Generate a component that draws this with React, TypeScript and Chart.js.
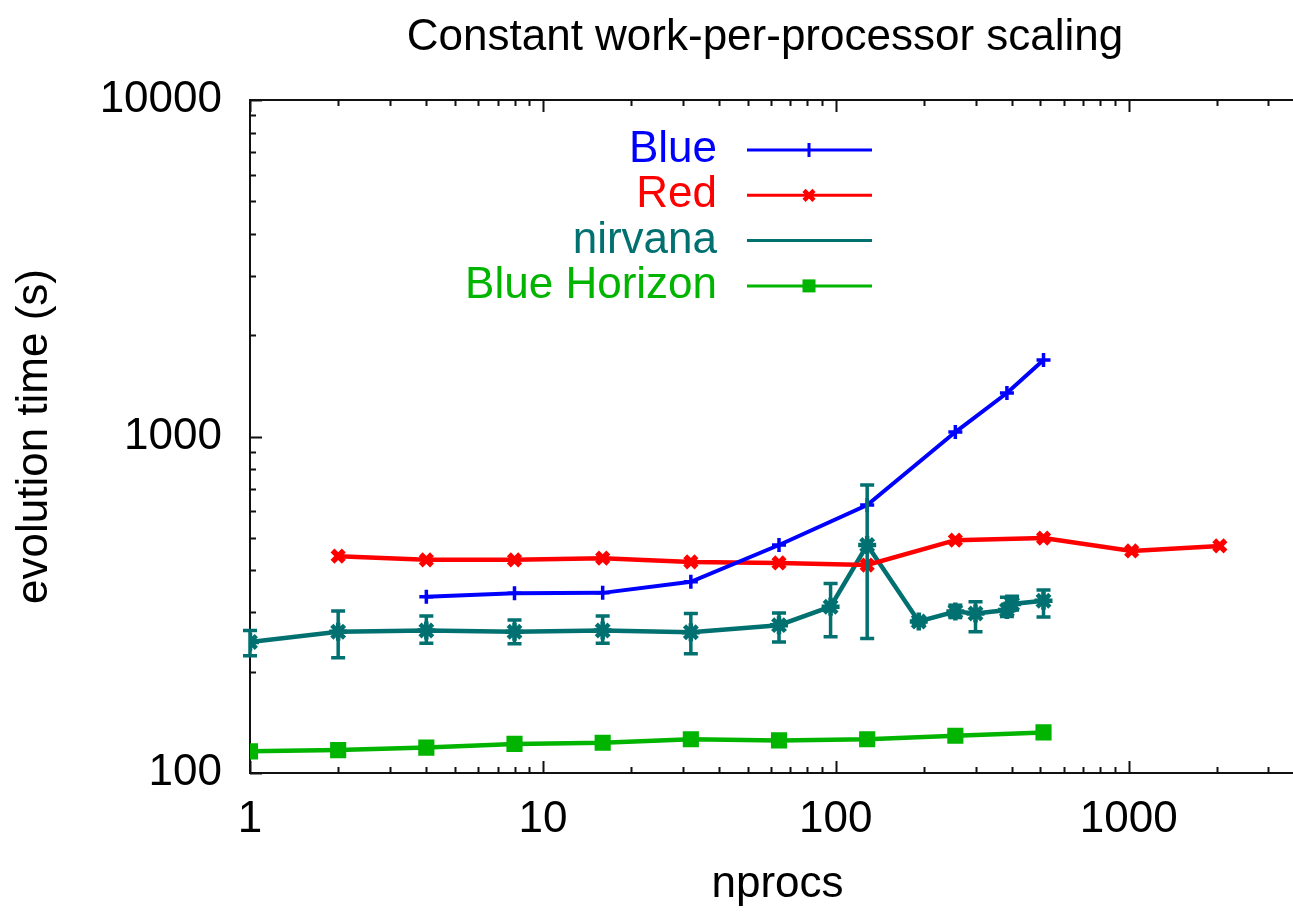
import React, { useEffect, useRef } from 'react';
import { Chart, registerables } from 'chart.js';

Chart.register(...registerables);

const TITLE = 'Constant work-per-processor scaling';
const X_LABEL = 'nprocs';
const Y_LABEL = 'evolution time (s)';
const X_TICKS = [1, 10, 100, 1000];
const Y_TICKS = [100, 1000, 10000];
const X_MIN = 1;
const X_MAX = 4000;
const Y_MIN = 100;
const Y_MAX = 10000;

const SERIES_NAMES = ['Blue', 'Red', 'nirvana', 'Blue Horizon'];
const SERIES_COLORS = ['#0000ff', '#ff0000', '#007070', '#00b400'];

const blueX = [4, 8, 16, 32, 64, 128, 256, 384, 512];
const blueY = [334, 342, 343, 370, 476, 626, 1031, 1346, 1688];

const redX = [2, 4, 8, 16, 32, 64, 128, 256, 512, 1024, 2048];
const redY = [441, 430, 430, 435, 424, 421, 415, 492, 499, 457, 473];

const nirvanaX = [1, 2, 4, 8, 16, 32, 64, 96, 128, 192, 256, 300, 384, 400, 512];
const nirvanaY = [245, 263, 265, 263, 265, 262, 275, 312, 476, 282, 302, 298, 305, 318, 325];
const nirvanaLow = [223, 220, 243, 242, 243, 226, 245, 254, 251, 278, 290, 263, 292, 305, 291];
const nirvanaHigh = [265, 303, 293, 285, 293, 298, 299, 366, 718, 286, 315, 323, 333, 335, 350];

const horizonX = [1, 2, 4, 8, 16, 32, 64, 128, 256, 512];
const horizonY = [116, 117, 119, 122, 123, 126, 125, 126, 129, 132];

const FONT = '"Liberation Sans", Arial, Helvetica, sans-serif';
const FONT_SIZE = 44;

function drawMarker(ctx: CanvasRenderingContext2D, kind: string, x: number, y: number, color: string) {
  ctx.save();
  ctx.strokeStyle = color;
  ctx.fillStyle = color;
  if (kind === 'plus') {
    ctx.lineWidth = 3;
    ctx.beginPath();
    ctx.moveTo(x, y - 7);
    ctx.lineTo(x, y + 7);
    ctx.stroke();
  } else if (kind === 'x') {
    ctx.lineWidth = 4.5;
    ctx.beginPath();
    ctx.moveTo(x - 5, y - 5);
    ctx.lineTo(x + 5, y + 5);
    ctx.moveTo(x + 5, y - 5);
    ctx.lineTo(x - 5, y + 5);
    ctx.stroke();
  } else if (kind === 'square') {
    ctx.fillRect(x - 6.5, y - 6.5, 13, 13);
  }
  ctx.restore();
}

const titlePlugin = {
  id: 'gpTitle',
  afterDraw(chart: any) {
    const ctx = chart.ctx;
    ctx.save();
    ctx.fillStyle = '#000';
    ctx.font = `${FONT_SIZE}px ${FONT}`;
    ctx.textAlign = 'center';
    ctx.textBaseline = 'middle';
    ctx.fillText(TITLE, 765, 38);
    ctx.restore();
  },
};

const framePlugin = {
  id: 'gpFrame',
  beforeDatasetsDraw(chart: any) {
    const { ctx, chartArea: a, scales } = chart;
    const xs = scales.x;
    const ys = scales.y;
    ctx.save();
    ctx.strokeStyle = '#111';
    ctx.lineWidth = 2;
    ctx.strokeRect(a.left, a.top, a.right - a.left, a.bottom - a.top);
    ctx.beginPath();
    for (let d = 1; d <= 1000; d *= 10) {
      for (let k = 1; k <= 9; k++) {
        const v = d * k;
        if (v < X_MIN || v > X_MAX) continue;
        const px = Math.round(xs.getPixelForValue(v)) + 0.5;
        const L = k === 1 ? 12 : 6;
        ctx.moveTo(px, a.bottom);
        ctx.lineTo(px, a.bottom - L);
        ctx.moveTo(px, a.top);
        ctx.lineTo(px, a.top + L);
      }
    }
    for (let d = 100; d <= 10000; d *= 10) {
      for (let k = 1; k <= 9; k++) {
        const v = d * k;
        if (v < Y_MIN || v > Y_MAX) continue;
        const py = Math.round(ys.getPixelForValue(v)) + 0.5;
        const L = k === 1 ? 12 : 6;
        ctx.moveTo(a.left, py);
        ctx.lineTo(a.left + L, py);
        ctx.moveTo(a.right, py);
        ctx.lineTo(a.right - L, py);
      }
    }
    ctx.stroke();
    ctx.restore();
  },
};

const errorBarPlugin = {
  id: 'gpErrorBars',
  afterDatasetsDraw(chart: any) {
    const { ctx, scales } = chart;
    const xs = scales.x;
    const ys = scales.y;
    ctx.save();
    ctx.strokeStyle = SERIES_COLORS[2];
    ctx.lineWidth = 3.5;
    ctx.beginPath();
    nirvanaX.forEach((xv, i) => {
      const px = xs.getPixelForValue(xv);
      const pl = ys.getPixelForValue(nirvanaLow[i]);
      const ph = ys.getPixelForValue(nirvanaHigh[i]);
      ctx.moveTo(px, pl);
      ctx.lineTo(px, ph);
      ctx.moveTo(px - 7, pl);
      ctx.lineTo(px + 7, pl);
      ctx.moveTo(px - 7, ph);
      ctx.lineTo(px + 7, ph);
    });
    ctx.stroke();
    ctx.restore();
  },
};

const LEGEND_MARKERS = ['plus', 'x', 'none', 'square'];

const legendPlugin = {
  id: 'gpLegend',
  afterDraw(chart: any) {
    const ctx = chart.ctx;
    ctx.save();
    ctx.font = `${FONT_SIZE}px ${FONT}`;
    ctx.textAlign = 'right';
    ctx.textBaseline = 'middle';
    SERIES_NAMES.forEach((name, i) => {
      const y = 150 + i * 45.3;
      ctx.fillStyle = SERIES_COLORS[i];
      ctx.fillText(name, 717, y);
      ctx.strokeStyle = SERIES_COLORS[i];
      ctx.lineWidth = 3;
      ctx.beginPath();
      ctx.moveTo(747, y);
      ctx.lineTo(872, y);
      ctx.stroke();
      drawMarker(ctx, LEGEND_MARKERS[i], 809, y, SERIES_COLORS[i]);
    });
    ctx.restore();
  },
};

function pts(xs: number[], ys: number[]) {
  return xs.map((x, i) => ({ x, y: ys[i] }));
}

export default function App() {
  const ref = useRef<HTMLCanvasElement | null>(null);

  useEffect(() => {
    if (!ref.current) return;
    const font = { family: FONT, size: FONT_SIZE, weight: 'normal' as const };
    const chart = new Chart(ref.current, {
      type: 'line',
      data: {
        datasets: [
          {
            label: SERIES_NAMES[0],
            data: pts(blueX, blueY),
            borderColor: SERIES_COLORS[0],
            backgroundColor: SERIES_COLORS[0],
            borderWidth: 4,
            pointStyle: 'cross',
            pointRadius: 7,
            pointBorderWidth: 3.5,
            tension: 0,
          },
          {
            label: SERIES_NAMES[1],
            data: pts(redX, redY),
            borderColor: SERIES_COLORS[1],
            backgroundColor: SERIES_COLORS[1],
            borderWidth: 4.5,
            pointStyle: 'crossRot',
            pointRadius: 8,
            pointBorderWidth: 5.5,
            tension: 0,
          },
          {
            label: SERIES_NAMES[2],
            data: pts(nirvanaX, nirvanaY),
            borderColor: SERIES_COLORS[2],
            backgroundColor: SERIES_COLORS[2],
            borderWidth: 4.5,
            pointStyle: 'star',
            pointRadius: 9,
            pointBorderWidth: 4.5,
            tension: 0,
          },
          {
            label: SERIES_NAMES[3],
            data: pts(horizonX, horizonY),
            borderColor: SERIES_COLORS[3],
            backgroundColor: SERIES_COLORS[3],
            borderWidth: 4.5,
            pointStyle: 'rect',
            pointRadius: 10,
            pointBorderWidth: 2,
            tension: 0,
          },
        ],
      },
      options: {
        responsive: false,
        animation: false,
        devicePixelRatio: 1,
        layout: { padding: { left: 0, right: 15, top: 100, bottom: 0 } },
        plugins: {
          legend: { display: false },
          tooltip: { enabled: false },
          title: { display: false },
        },
        scales: {
          x: {
            type: 'logarithmic',
            position: 'bottom',
            min: X_MIN,
            max: X_MAX,
            afterBuildTicks: (s: any) => {
              s.ticks = X_TICKS.map((v) => ({ value: v }));
            },
            afterFit: (s: any) => {
              s.height = 140;
            },
            grid: { display: false, drawTicks: false },
            border: { display: false },
            ticks: {
              color: '#000',
              font,
              padding: 20,
              autoSkip: false,
              maxRotation: 0,
              callback: (v: any) => String(v),
            },
            title: {
              display: true,
              text: X_LABEL,
              color: '#000',
              font,
              padding: { top: 0, bottom: 2 },
            },
          },
          y: {
            type: 'logarithmic',
            position: 'left',
            min: Y_MIN,
            max: Y_MAX,
            afterBuildTicks: (s: any) => {
              s.ticks = Y_TICKS.map((v) => ({ value: v }));
            },
            afterFit: (s: any) => {
              s.width = 250;
            },
            grid: { display: false, drawTicks: false },
            border: { display: false },
            ticks: {
              color: '#000',
              font,
              padding: 28,
              autoSkip: false,
              callback: (v: any) => String(v),
            },
            title: {
              display: true,
              text: Y_LABEL,
              color: '#000',
              font,
              padding: { top: 8, bottom: 0 },
            },
          },
        },
      },
      plugins: [titlePlugin, framePlugin, errorBarPlugin, legendPlugin],
    } as any);
    return () => chart.destroy();
  }, []);

  return (
    <div
      style={{
        position: 'fixed',
        left: 0,
        top: 0,
        width: 1293,
        height: 913,
        overflow: 'hidden',
        background: '#fff',
      }}
    >
      <canvas ref={ref} width={1320} height={913} style={{ display: 'block', width: 1320, height: 913 }} />
    </div>
  );
}
